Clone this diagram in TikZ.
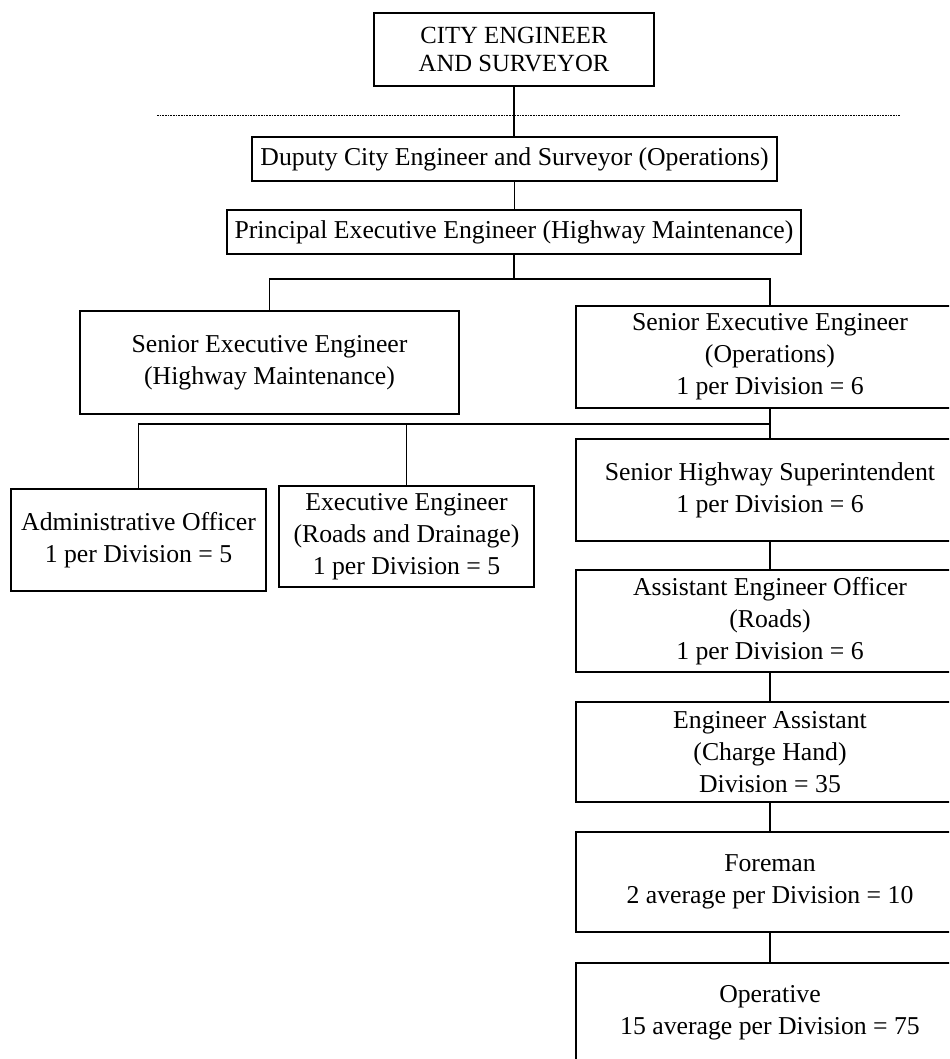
\documentclass[tikz,border=0pt]{standalone}
\usepackage{fontspec}
\setmainfont{Liberation Serif}
\usetikzlibrary{calc}

\begin{document}
\begin{tikzpicture}[x=0.75pt,y=-0.75pt,
    postbox/.style={draw, line width=0.9pt, align=center, inner sep=0pt,
      font=\fontsize{19.3}{24}\selectfont},
    boxsize/.style 2 args={minimum width=#1*0.75pt, minimum height=#2*0.75pt},
    link/.style={line width=0.9pt},
    cutline/.style={line width=0.6pt, dash pattern=on 1.2pt off 0.8pt}]
    \useasboundingbox (0,0) rectangle (949,1059);
    \clip (0,0) rectangle (949,1059);

    % head of the department
    \node[postbox, boxsize={280}{73}, font=\fontsize{18.5}{21}\selectfont] (ce) at (514,49.5) {CITY ENGINEER\\AND SURVEYOR};
    \coordinate (cutL) at (157,115);
    \coordinate (cutR) at (900,115);
    \draw[cutline] (cutL) -- (cutR);

    \node[postbox, boxsize={525}{44}] (dep) at (514.5,159) {Duputy City Engineer and Surveyor (Operations)};
    \node[postbox, boxsize={574}{44}] (pee) at (514,232) {Principal Executive Engineer (Highway Maintenance)};

    % second level
    \node[postbox, boxsize={379}{103}] (sehm) at (269.5,362.5) {Senior Executive Engineer\\(Highway Maintenance)};
    \node[postbox, boxsize={388}{102}] (seops) at (770,357) {Senior Executive Engineer\\(Operations)\\1 per Division = 6};
    \node[postbox, boxsize={255}{102}] (adm) at (138.5,540) {Administrative Officer\\1 per Division = 5};
    \node[postbox, boxsize={255}{101}] (exe) at (406.5,536.5) {Executive Engineer\\(Roads and Drainage)\\1 per Division = 5};

    % operations column
    \foreach \n/\y/\h/\txt in {shs/490/102/{Senior Highway Superintendent\\1 per Division = 6},
        aeo/621/102/{Assistant Engineer Officer\\(Roads)\\1 per Division = 6},
        ea/752/100/{Engineer Assistant\\(Charge Hand)\\Division = 35},
        fore/882/100/{Foreman\\2 average per Division = 10},
        oper/1013/100/{Operative\\15 average per Division = 75}}
    \node[postbox, boxsize={388}{\h}] (\n) at (770,\y) {\txt};

    % connectors
    \draw[link] (ce.south) -- (ce.south |- dep.north);
    \draw[link] (dep.south) -- (dep.south |- pee.north);
    \coordinate (bus1) at (0,279);
    \coordinate (bus2) at (0,424);
    \draw[link] (pee.south) -- (pee.south |- bus1);
    \draw[link] (sehm.north) |- (bus1 -| seops.north) -- (seops.north);
    \draw[link] (adm.north) |- (bus2 -| seops.south);
    \draw[link] (exe.north) -- (exe.north |- bus2);
    \foreach \a/\b in {seops/shs,shs/aeo,aeo/ea,ea/fore,fore/oper}
    \draw[link] (\a.south) -- (\b.north);
\end{tikzpicture}
\end{document}
